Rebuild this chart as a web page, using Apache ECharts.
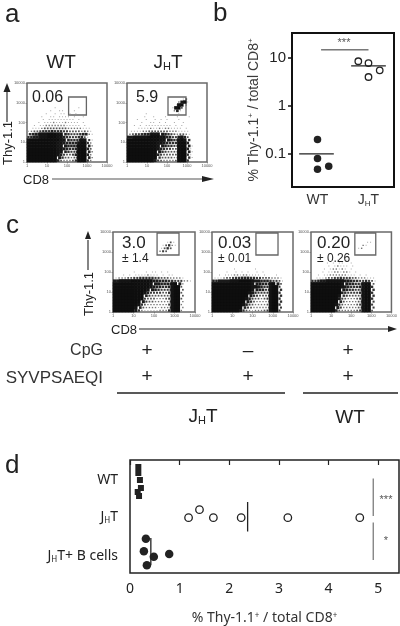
<!DOCTYPE html>
<html><head><meta charset="utf-8">
<style>html,body{margin:0;padding:0;background:#fff}#c{width:400px;height:626px}</style>
<script src="https://cdn.jsdelivr.net/npm/echarts@6/dist/echarts.min.js"></script></head>
<body><div id="c"></div>
<script>
// Density: 0 = white ... 9 = black; rows top to bottom, 3px-ish cells.
const aWT = ["","","","","","","","",
"000000000100000001000",
"000000010011000100000",
"000000100101101010000",
"000010011011110100100",
"000001011111111101000",
"000101112111211110100",
"001011222222211111010",
"011123333333322222111",
"123345556555443333232100",
"56778889998 86544 4566 21",
"56778889998 86544 4563 10",
"89999999999 88655 5788 41",
"99999999998 87666 6899 52",
"99999999998 87666 6999 62",
"99999999998 87655 6999 63",
"99999999998 86544 6999 62",
"99999999998 64334 6999 62",
"99999999997 53323 5999 62",
"99999999996 32223 5999 52"];
const aJHT = ["","","","","",
"000000000000000000130",
"000000000000000002781",
"00000000000000002892",
"0000000000000001893",
"000000000000000261",
"00000010000000000100",
"00000100100010001000100",
"00010010010101000100000",
"00001001101010010010000",
"00101011111111101010000",
"00011112112122111101000",
"01111223333333222111100",
"23445667888 765432 3321 00",
"77888889999 886644 7863 0",
"99999999999 887655 8985 0",
"99999999998 876555 9996 0",
"99999999998 765544 9996 1",
"99999999998 654433 9996 1",
"99999999997 543333 9996 1",
"99999999996 433333 9995 1",
"99999999995 333323 9995 1",
"99999999974 322223 9995 0"];
const cJHT1 = ["","",
"",
"0000000000000000013100",
"0000000000000000135210",
"0000000000000001353",
"000000000000000243",
"0000000000000001",
"","","","","",
"000000100010110101000000",
"000101011112111010110000",
"1222334455 55544333 222 21",
"7788889999 99977666 554 44221",
"9999999999 99877666 689 720",
"9999999999 99876655 689 930",
"9999999999 98765444 589 930",
"9999999999 86444433 589 930",
"9999999999 64333333 489 930",
"9999999999 43332223 489 930",
"9999999997 43322222 489 920",
"9999999985 32222222 489 920",
"9999999863 22221222 489 920",
"9999999752 11111222 589 920"];
const cJHT2 = ["","","","","","","","","","","","",
"00000001000000100000",
"00001001010100101000",
"00101112212211110100010",
"11123345566 65544333 2221",
"66777788899 99877666 544 31",
"99999999999 99877665 897 30",
"99999999999 99887655 899 40",
"99999999999 99876645 899 50",
"99999999999 98754444 899 50",
"99999999999 97543334 899 50",
"99999999999 86433234 899 50",
"99999999999 75322223 899 50",
"99999999998 64322223 899 50",
"99999999996 43222223 899 40",
"99999999975 32122234 899 40"];
const cWT = ["","",
"",
"000000000000000000110",
"00000000000000000210",
"000000000000000120",
"","","",
"00000000100100000",
"0000010101100100",
"00000101211101000",
"00001012212101000",
"00010112212210100",
"00101122222211101010",
"01112334454443322211100",
"556778888 88776554 45 4310",
"999999999 98766555 89 9300",
"999999999 98765556 89 9500",
"999999999 97655445 89 9500",
"999999999 96544445 89 9500",
"999999999 85433334 89 9500",
"999999999 74322234 89 9500",
"999999999 63222234 89 9400",
"999999998 53222234 89 9400",
"999999997 42222234 89 9400",
"999999996 32222234 89 9300"];
const flowTicks = ["1","10","100","1000","10000"];
const gateA1 = [2.08,2.38,2.97,3.29], gateA2 = [2.05,2.38,2.95,3.29];
const gateC1 = [2.15,2.85,3.22,3.95], gateC2 = [2.17,2.85,3.26,3.95], gateC3 = [2.18,2.85,3.22,3.95];

// Panel b
const bWTx = [1,1,1.22,1], bWTy = [0.2,0.08,0.055,0.048];
const bJx = [1.8,2,2.22,2], bJy = [8.5,7.8,5.5,4];
const bMeanWT = 0.1, bMeanJ = 6.8, bSig = 14.7;

// Panel d (x: percent, y: vertical jitter position within the panel)
const dWTx = [0.168,0.168,0.2,0.22,0.155,0.182], dWTy = [0.7,1.3,2,2.8,3.2,3.6];
const dJx = [1.18,1.40,1.68,2.24,3.18,4.63], dJy = [5.77,4.97,5.77,5.77,5.77,5.77];
const dBx = [0.32,0.28,0.48,0.79,0.34], dBy = [7.87,9.13,9.67,9.4,10.53];
const dMeanJ = 2.37, dMeanB = 0.42;

const dotSize = [0,1,1.4,1.75,2.05,2.35,2.65,3,3.5,3.5];
const dotColor = ['#fff','#a8a8a8','#777','#555','#3c3c3c','#2f2f2f','#222','#1a1a1a','#141414','#0e0e0e'];
const flowGrids = [
  {left:27,top:83,width:80,height:79,rows:aWT,gate:gateA1},
  {left:127,top:83,width:80,height:79,rows:aJHT,gate:gateA2},
  {left:113,top:232,width:82,height:80,rows:cJHT1,gate:gateC1},
  {left:212,top:232,width:81,height:80,rows:cJHT2,gate:gateC2},
  {left:311,top:232,width:82,height:80,rows:cWT,gate:gateC3}
];
const grid=[],xAxis=[],yAxis=[],series=[];
const N=27;
flowGrids.forEach((g,i)=>{
  grid.push({left:g.left,top:g.top,width:g.width,height:g.height,show:true,borderColor:'#6a6a6a',borderWidth:1.5,backgroundColor:'#fff'});
  const ax={min:0,max:4,interval:1,type:'value',splitLine:{show:false},
    axisLine:{show:false},axisTick:{length:1.5,lineStyle:{color:'#666',width:.6}},
    axisLabel:{fontSize:4,color:'#555',margin:2,fontFamily:'Liberation Sans',formatter:v=>flowTicks[v]}};
  xAxis.push(Object.assign({gridIndex:i},ax));
  yAxis.push(Object.assign({gridIndex:i},ax));
  const pts=[];
  const off=N-g.rows.length;
  g.rows.forEach((s,r)=>{
    s=s.replace(/ /g,'');
    for(let c=0;c<s.length&&c<N;c++){
      const d=+s[c];
      const shift=(d<=7&&(r+off)%2)?.5:0;
      if(d>0) pts.push([(c+.5+shift)/N*4,4-(r+off+.5)/N*4,d]);
    }
  });
  series.push({type:'scatter',xAxisIndex:i,yAxisIndex:i,symbol:'rect',symbolSize:v=>dotSize[v[2]],clip:true,silent:true,
    data:pts,itemStyle:{opacity:1,color:p=>dotColor[p.value[2]]},
    markArea:{silent:true,itemStyle:{color:'rgba(0,0,0,0)',borderColor:'#666',borderWidth:1.3},
      data:[[{coord:[g.gate[0],g.gate[1]]},{coord:[g.gate[2],g.gate[3]]}]]}});
});
// panel b
const bi=grid.length;
grid.push({left:292,top:33,width:102,height:154,show:true,borderColor:'#111',borderWidth:2,backgroundColor:'transparent'});
const subRich={b:{fontSize:14,color:'#333',fontFamily:'Liberation Sans'},s:{fontSize:8,color:'#333',fontFamily:'Liberation Sans',padding:[7,0,0,0]}};
xAxis.push({gridIndex:bi,type:'value',min:.5,max:2.5,interval:.5,splitLine:{show:false},axisLine:{show:false},axisTick:{show:false},
  axisLabel:{margin:6,fontSize:14,color:'#333',fontFamily:'Liberation Sans',rich:subRich,showMinLabel:false,showMaxLabel:false,
    formatter:v=>v===1?'{b|WT}':v===2?'{b|J}{s|H}{b|T}':''}});
const supRich={a:{fontSize:14,color:'#3a3a3a',fontFamily:'Liberation Sans'},u:{fontSize:8,color:'#3a3a3a',fontFamily:'Liberation Sans',padding:[0,0,6,0]}};
yAxis.push({gridIndex:bi,type:'log',min:0.0204,max:33,splitLine:{show:false},axisLine:{show:false},
  axisTick:{length:4,customValues:[0.1,1,10],lineStyle:{color:'#111',width:1.5}},
  axisLabel:{customValues:[0.1,1,10],fontSize:15,color:'#222',margin:6,fontFamily:'Liberation Sans',formatter:v=>String(v)},
  name:'{a|% Thy-1.1}{u|+}{a| / total CD8}{u|+}',nameLocation:'middle',nameGap:25,nameRotate:90,nameTextStyle:{rich:supRich}});
const seg=(gi,pts,color,width)=>({type:'line',xAxisIndex:gi,yAxisIndex:gi,data:pts,symbol:'none',silent:true,lineStyle:{color,width}});
const zip=(a,b)=>a.map((v,i)=>[v,b[i]]);
series.push({type:'scatter',xAxisIndex:bi,yAxisIndex:bi,data:zip(bWTx,bWTy),symbolSize:7.5,itemStyle:{color:'#222',opacity:1},silent:true});
series.push({type:'scatter',xAxisIndex:bi,yAxisIndex:bi,data:zip(bJx,bJy),symbolSize:6.5,itemStyle:{color:'#fff',borderColor:'#222',borderWidth:1.3,opacity:1},silent:true});
series.push(seg(bi,[[.64,bMeanWT],[1.32,bMeanWT]],'#222',1.3));
series.push(seg(bi,[[1.66,bMeanJ],[2.34,bMeanJ]],'#222',1.3));
series.push(seg(bi,[[1.07,bSig],[2.0,bSig]],'#333',1));
// panel d
const di=grid.length;
grid.push({left:130,top:460,width:269,height:113,show:true,borderColor:'#222',borderWidth:1.5,backgroundColor:'transparent'});
xAxis.push({gridIndex:di,type:'value',min:0,max:5.42,interval:1,splitLine:{show:false},axisLine:{show:false},
  axisTick:{length:5,lineStyle:{color:'#222',width:1.2}},
  axisLabel:{fontSize:14,color:'#222',margin:9,fontFamily:'Noto Sans',showMaxLabel:false,formatter:v=>Number.isInteger(v)?String(v):''},
  name:'{a|% Thy-1.1}{u|+}{a| / total CD8}{u|+}',nameLocation:'middle',nameGap:38,
  nameTextStyle:{rich:{a:{fontSize:14,color:'#333',fontFamily:'Noto Sans'},u:{fontSize:8,color:'#333',fontFamily:'Noto Sans',padding:[0,0,5,0]}}}});
const dLabels={2:'{b|WT}',5.7:'{b|J}{s|H}{b|T}',9.6:'{b|J}{s|H}{b|T+ B cells}'};
yAxis.push({gridIndex:di,type:'value',min:0,max:11.3,inverse:true,splitLine:{show:false},axisLine:{show:false},axisTick:{show:false},
  axisLabel:{customValues:[2,5.7,9.6],margin:12,formatter:v=>dLabels[v]||'',
    rich:{b:{fontSize:14,color:'#222',fontFamily:'Noto Sans'},s:{fontSize:8,color:'#222',fontFamily:'Noto Sans',padding:[7,0,0,0]}}}});
series.push({type:'scatter',xAxisIndex:di,yAxisIndex:di,symbol:'rect',data:zip(dWTx,dWTy),symbolSize:6,itemStyle:{color:'#222',opacity:1},silent:true});
series.push({type:'scatter',xAxisIndex:di,yAxisIndex:di,data:zip(dJx,dJy),symbolSize:7.5,itemStyle:{color:'#fff',borderColor:'#222',borderWidth:1.3,opacity:1},silent:true});
series.push({type:'scatter',xAxisIndex:di,yAxisIndex:di,data:zip(dBx,dBy),symbolSize:8.5,itemStyle:{color:'#222',opacity:1},silent:true});
series.push(seg(di,[[dMeanJ,4.2],[dMeanJ,7.15]],'#222',1.3));
series.push(seg(di,[[dMeanB,7.8],[dMeanB,10.5]],'#222',1.3));
series.push(seg(di,[[4.9,1.85],[4.9,5.6]],'#555',1));
series.push(seg(di,[[4.9,6.25],[4.9,10]],'#555',1));

// annotation text
const FF='Liberation Sans';
const jhtRich=(big,small,col)=>({b:{fontSize:big,fill:col,fontFamily:FF},s:{fontSize:small,fill:col,fontFamily:FF,padding:[big*.45,0,0,0]}});
const T=(text,x,y,size,o={})=>({type:'text',x,y,rotation:o.rot||0,z:20,silent:true,style:{text,fontSize:size,fontFamily:o.ff||FF,fill:o.fill||'#222',align:o.align||'left',verticalAlign:'middle',rich:o.rich}});
const L=(x1,y1,x2,y2,c='#333',w=1.2)=>({type:'line',z:20,silent:true,shape:{x1,y1,x2,y2},style:{stroke:c,lineWidth:w}});
const P=(pts,c='#222')=>({type:'polygon',z:20,silent:true,shape:{points:pts},style:{fill:c}});
const graphic=[
 T('a',5,15,26),T('b',213,14,26),T('c',6,226,26),T('d',5,466,26),
 T('WT',61,63,19,{align:'center'}),
 T('{b|J}{s|H}{b|T}',168,63,19,{align:'center',rich:jhtRich(19,11,'#222')}),
 T('0.06',32,98,16),T('5.9',136,98,16),
 T('Thy-1.1',8,143,13,{rot:Math.PI/2,align:'center'}),L(7,122,7,90),P([[3.5,92],[7,83],[10.5,92]]),
 T('CD8',23,180,13),L(52,179,205,179,'#555'),P([[202,176],[214,179],[202,182]]),
 T('***',344,43,11,{align:'center',fill:'#555'}),
 T('3.0',122,243,17),T('± 1.4',122,259,12),
 T('0.03',218,243,17),T('± 0.01',218,259,12),
 T('0.20',317,243,17),T('± 0.26',317,259,12),
 T('Thy-1.1',89,294,13,{rot:Math.PI/2,align:'center'}),L(88,270,88,240),P([[85,239],[88,231],[91,239]]),
 T('CD8',111,330,13),L(139,329,392,329,'#222'),P([[388,326],[397,329],[388,332]]),
 T('CpG',103,351,16,{align:'right',fill:'#333'}),T('SYVPSAEQI',103,378,17,{align:'right',fill:'#333'}),
 T('+',147,351,19,{align:'center'}),T('–',248,351,19,{align:'center'}),T('+',348,351,19,{align:'center'}),
 T('+',147,377,19,{align:'center'}),T('+',248,377,19,{align:'center'}),T('+',348,377,19,{align:'center'}),
 L(117,393,285,393,'#222',1.5),L(303,393,398,393,'#222',1.5),
 T('{b|J}{s|H}{b|T}',203,417,19,{align:'center',rich:jhtRich(19,11,'#222')}),
 T('WT',350,418,19,{align:'center'}),
 T('***',386,500,11,{align:'center',fill:'#555'}),T('*',386,541,11,{align:'center',fill:'#555'})
];
const chart=echarts.init(document.getElementById('c'),null,{renderer:'canvas'});
chart.setOption({animation:false,backgroundColor:'#fff',grid,xAxis,yAxis,series,graphic});
</script></body></html>
